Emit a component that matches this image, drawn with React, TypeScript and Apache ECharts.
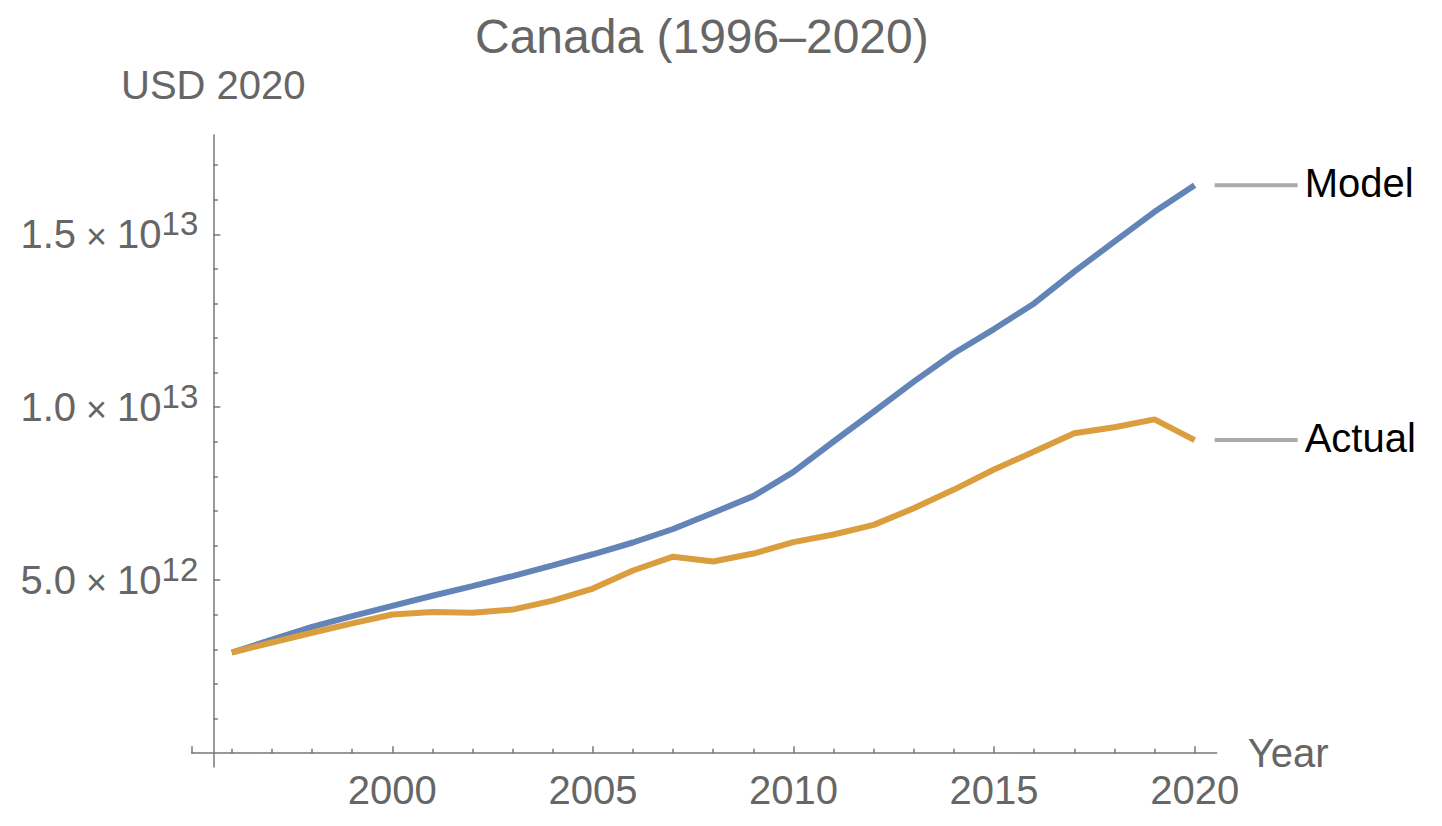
import React, { useEffect, useRef } from 'react';
import * as echarts from 'echarts';

const years = [1996, 1997, 1998, 1999, 2000, 2001, 2002, 2003, 2004, 2005, 2006, 2007, 2008, 2009, 2010, 2011, 2012, 2013, 2014, 2015, 2016, 2017, 2018, 2019, 2020];
const modelValues = [2.91e12, 3.28e12, 3.65e12, 3.96e12, 4.26e12, 4.55e12, 4.83e12, 5.12e12, 5.43e12, 5.75e12, 6.09e12, 6.48e12, 6.95e12, 7.43e12, 8.13e12, 9.01e12, 9.87e12, 10.74e12, 11.56e12, 12.26e12, 13.0e12, 13.92e12, 14.79e12, 15.65e12, 16.42e12];
const actualValues = [2.91e12, 3.2e12, 3.48e12, 3.75e12, 4.01e12, 4.08e12, 4.06e12, 4.15e12, 4.41e12, 4.76e12, 5.28e12, 5.68e12, 5.54e12, 5.77e12, 6.1e12, 6.32e12, 6.6e12, 7.08e12, 7.62e12, 8.2e12, 8.72e12, 9.25e12, 9.42e12, 9.65e12, 9.05e12];
const seriesNames = ['Model', 'Actual'];
const seriesColors = ['#6284B7', '#DB9E3E'];

const xMajorTicks = [1995, 2000, 2005, 2010, 2015, 2020];
const xLabelValues = [2000, 2005, 2010, 2015, 2020];
const xMinorTicks = [1996, 1997, 1998, 1999, 2001, 2002, 2003, 2004, 2006, 2007, 2008, 2009, 2011, 2012, 2013, 2014, 2016, 2017, 2018, 2019];
const yMajorTicks = [5e12, 1e13, 1.5e13];
const yMinorTicks = [1e12, 2e12, 3e12, 4e12, 6e12, 7e12, 8e12, 9e12, 11e12, 12e12, 13e12, 14e12, 16e12, 17e12];

const titleText = 'Canada (1996–2020)';
const yName = 'USD 2020';
const xName = 'Year';

const FONT = '"Liberation Sans", Arial, Helvetica, sans-serif';
const GRAY = '#666666';
const AXIS = '#777777';

function sciLabel(v: number): string {
  const exp = Math.floor(Math.log10(v) + 1e-9);
  const mant = (v / Math.pow(10, exp)).toFixed(1);
  return `{m|${mant}}{x| × }{m|10}{s|${exp}}`;
}

export default function App() {
  const ref = useRef<HTMLDivElement>(null);
  useEffect(() => {
    if (!ref.current) return;
    const chart = echarts.init(ref.current, undefined, { renderer: 'svg' });
    const xMin = 1995;
    const xMax = 2020.55;
    const yMin = -0.4e12;
    const yMax = 17.87e12;
    const option: any = {
      animation: false,
      textStyle: { fontFamily: FONT },
      title: {
        text: titleText,
        left: 475,
        top: 12,
        padding: 0,
        textStyle: { fontSize: 48, fontWeight: 'normal', color: GRAY, fontFamily: FONT },
      },
      grid: { left: 191.7, right: 225.3, top: 135, bottom: 59, containLabel: false },
      xAxis: [
        {
          type: 'value',
          min: xMin,
          max: xMax,
          position: 'bottom',
          name: xName,
          nameLocation: 'end',
          nameGap: 31,
          nameTextStyle: { fontSize: 40, color: GRAY, fontFamily: FONT },
          axisLine: { show: true, onZero: true, onZeroAxisIndex: 0, lineStyle: { color: AXIS, width: 1.5 } },
          axisTick: { show: true, inside: true, length: 7, customValues: xMajorTicks, lineStyle: { color: AXIS, width: 1.5 } },
          axisLabel: {
            show: true,
            customValues: xLabelValues,
            margin: 3,
            fontSize: 40,
            color: GRAY,
            fontFamily: FONT,
            formatter: (v: number) => String(Math.round(v)),
          },
          splitLine: { show: false },
        },
        {
          type: 'value',
          min: xMin,
          max: xMax,
          position: 'bottom',
          axisLine: { show: false, onZero: true, onZeroAxisIndex: 0 },
          axisTick: { show: true, inside: true, length: 4.5, customValues: xMinorTicks, lineStyle: { color: AXIS, width: 1.5 } },
          axisLabel: { show: false },
          splitLine: { show: false },
        },
      ],
      yAxis: [
        {
          type: 'value',
          min: yMin,
          max: yMax,
          position: 'left',
          offset: -21.6,
          name: yName,
          nameLocation: 'end',
          nameGap: 30,
          nameTextStyle: { fontSize: 40, color: GRAY, fontFamily: FONT, align: 'center', verticalAlign: 'bottom' },
          axisLine: { show: true, onZero: false, lineStyle: { color: AXIS, width: 1.5 } },
          axisTick: { show: true, inside: true, length: 7, customValues: yMajorTicks, lineStyle: { color: AXIS, width: 1.5 } },
          axisLabel: {
            show: true,
            customValues: yMajorTicks,
            margin: 15,
            color: GRAY,
            fontFamily: FONT,
            formatter: (v: number) => sciLabel(v),
            rich: {
              m: { fontSize: 40, lineHeight: 40, verticalAlign: 'bottom', color: GRAY, fontFamily: FONT },
              x: { fontSize: 36, lineHeight: 40, verticalAlign: 'bottom', color: GRAY, fontFamily: FONT },
              s: { fontSize: 33, lineHeight: 33, verticalAlign: 'middle', padding: [0, 0, 22, 0], color: GRAY, fontFamily: FONT },
            },
          },
          splitLine: { show: false },
        },
        {
          type: 'value',
          min: yMin,
          max: yMax,
          position: 'left',
          offset: -21.6,
          axisLine: { show: false, onZero: false },
          axisTick: { show: true, inside: true, length: 4.5, customValues: yMinorTicks, lineStyle: { color: AXIS, width: 1.5 } },
          axisLabel: { show: false },
          splitLine: { show: false },
        },
      ],
      series: [
        {
          name: seriesNames[0],
          type: 'line',
          xAxisIndex: 0,
          yAxisIndex: 0,
          showSymbol: false,
          symbol: 'none',
          lineStyle: { color: seriesColors[0], width: 6 },
          data: years.map((y, i) => [y, modelValues[i]]),
        },
        {
          name: seriesNames[1],
          type: 'line',
          xAxisIndex: 0,
          yAxisIndex: 0,
          showSymbol: false,
          symbol: 'none',
          lineStyle: { color: seriesColors[1], width: 6 },
          data: years.map((y, i) => [y, actualValues[i]]),
        },
      ],
    };
    chart.setOption(option);

    const last = years.length - 1;
    const ends = [modelValues[last], actualValues[last]];
    const elements: any[] = [];
    ends.forEach((v, i) => {
      const p = chart.convertToPixel({ seriesIndex: i }, [years[last], v]) as number[];
      if (!p) return;
      elements.push({
        type: 'line',
        shape: { x1: p[0] + 20, y1: p[1], x2: p[0] + 103, y2: p[1] },
        style: { stroke: '#AAAAAA', lineWidth: 4 },
      });
      elements.push({
        type: 'text',
        x: p[0] + 110,
        y: p[1] - 2,
        style: { text: seriesNames[i], fill: '#000000', fontSize: 40, fontFamily: FONT, align: 'left', verticalAlign: 'middle' },
      });
    });
    chart.setOption({ graphic: { elements } });

    return () => chart.dispose();
  }, []);
  return <div ref={ref} style={{ position: 'absolute', left: 0, top: 0, width: 1442, height: 826 }} />;
}
